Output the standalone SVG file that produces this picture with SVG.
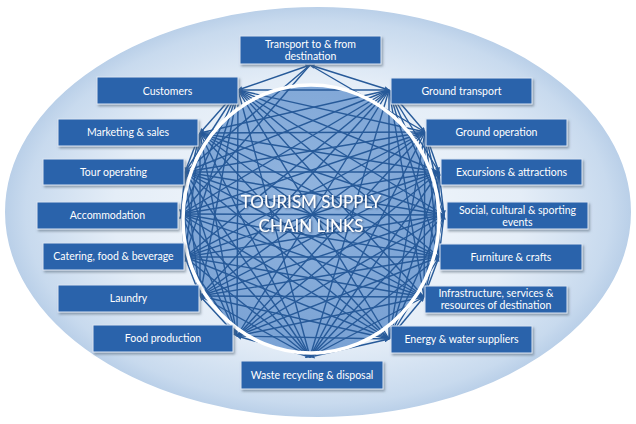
<svg xmlns="http://www.w3.org/2000/svg" width="636" height="424" viewBox="0 0 636 424">
<defs>
<radialGradient id="bg" cx="50%" cy="50%" r="50%">
<stop offset="0" stop-color="#f7fafd"/>
<stop offset="0.65" stop-color="#e4edf7"/>
<stop offset="0.93" stop-color="#c8daee"/>
<stop offset="1" stop-color="#b9cfe8"/>
</radialGradient>
<radialGradient id="hub" cx="45%" cy="40%" r="60%">
<stop offset="0" stop-color="#92b5df"/>
<stop offset="1" stop-color="#7aa2d4"/>
</radialGradient>
<filter id="sh" x="-10%" y="-20%" width="125%" height="150%">
<feDropShadow dx="1.5" dy="2" stdDeviation="1.2" flood-color="#556677" flood-opacity="0.55"/>
</filter>
<filter id="ts" x="-10%" y="-30%" width="120%" height="160%">
<feDropShadow dx="1" dy="1" stdDeviation="0.8" flood-color="#1b3d6b" flood-opacity="0.85"/>
</filter>
<marker id="ar" viewBox="0 0 10 10" refX="9" refY="5" markerWidth="5" markerHeight="5" orient="auto-start-reverse" markerUnits="userSpaceOnUse">
<path d="M0 0L10 5L0 10z" fill="#2a5d9c"/>
</marker>
<style>
.box{fill:#2b63ab;stroke:#dbe6f3;stroke-width:1;filter:url(#sh)}
.lbl{font-family:Lato,"Open Sans","Liberation Sans",sans-serif;font-size:10.5px;fill:#ffffff;text-anchor:middle}
.c path{fill:none;stroke:#275a99;stroke-width:1.4}
.c path.r{marker-start:url(#ar);marker-end:url(#ar)}
.title{font-family:Lato,"Open Sans","Liberation Sans",sans-serif;font-size:17px;fill:#ffffff;text-anchor:middle;filter:url(#ts)}
</style>
</defs>
<rect width="636" height="424" fill="#ffffff"/>
<ellipse cx="318" cy="212" rx="314" ry="206" fill="url(#bg)" stroke="#ffffff" stroke-width="2"/>
<ellipse id="hub-circle" cx="311" cy="219" rx="128" ry="134" fill="url(#hub)"/>
<g class="c" id="connectors">
<path d="M310 65L425 132"/><path d="M310 65L185 172"/><path d="M310 65L181 214"/>
<path d="M389 90L439 172"/><path d="M389 90L444 215"/><path d="M389 90L439 257"/><path d="M389 90L424 297"/><path d="M389 90L389 339"/><path d="M389 90L310 357"/><path d="M389 90L237 336"/><path d="M389 90L200 296"/><path d="M389 90L185 257"/><path d="M389 90L181 214"/><path d="M389 90L185 172"/><path d="M389 90L200 133"/><path d="M389 90L238 90"/>
<path d="M425 132L444 215"/><path d="M425 132L439 257"/><path d="M425 132L424 297"/><path d="M425 132L389 339"/><path d="M425 132L310 357"/><path d="M425 132L237 336"/><path d="M425 132L200 296"/><path d="M425 132L185 257"/><path d="M425 132L181 214"/><path d="M425 132L185 172"/><path d="M425 132L200 133"/><path d="M425 132L238 90"/>
<path d="M439 172L439 257"/><path d="M439 172L424 297"/><path d="M439 172L389 339"/><path d="M439 172L310 357"/><path d="M439 172L237 336"/><path d="M439 172L200 296"/><path d="M439 172L185 257"/><path d="M439 172L181 214"/><path d="M439 172L185 172"/><path d="M439 172L200 133"/><path d="M439 172L238 90"/>
<path d="M444 215L424 297"/><path d="M444 215L389 339"/><path d="M444 215L310 357"/><path d="M444 215L237 336"/><path d="M444 215L200 296"/><path d="M444 215L185 257"/><path d="M444 215L181 214"/><path d="M444 215L185 172"/><path d="M444 215L200 133"/><path d="M444 215L238 90"/>
<path d="M439 257L389 339"/><path d="M439 257L310 357"/><path d="M439 257L237 336"/><path d="M439 257L200 296"/><path d="M439 257L185 257"/><path d="M439 257L181 214"/><path d="M439 257L185 172"/><path d="M439 257L200 133"/><path d="M439 257L238 90"/>
<path d="M424 297L310 357"/><path d="M424 297L237 336"/><path d="M424 297L200 296"/><path d="M424 297L185 257"/><path d="M424 297L181 214"/><path d="M424 297L185 172"/><path d="M424 297L200 133"/><path d="M424 297L238 90"/>
<path d="M389 339L237 336"/><path d="M389 339L200 296"/><path d="M389 339L185 257"/><path d="M389 339L181 214"/><path d="M389 339L185 172"/><path d="M389 339L200 133"/><path d="M389 339L238 90"/>
<path d="M310 357L200 296"/><path d="M310 357L185 257"/><path d="M310 357L181 214"/><path d="M310 357L185 172"/><path d="M310 357L200 133"/><path d="M310 357L238 90"/>
<path d="M237 336L185 257"/><path d="M237 336L181 214"/><path d="M237 336L185 172"/><path d="M237 336L200 133"/><path d="M237 336L238 90"/>
<path d="M200 296L181 214"/><path d="M200 296L185 172"/><path d="M200 296L200 133"/><path d="M200 296L238 90"/>
<path d="M185 257L185 172"/><path d="M185 257L200 133"/><path d="M185 257L238 90"/>
<path d="M181 214L200 133"/><path d="M181 214L238 90"/>
<path d="M185 172L238 90"/>
<path class="r" d="M310 65L389 90"/><path class="r" d="M389 90L425 132"/><path class="r" d="M425 132L439 172"/><path class="r" d="M439 172L444 215"/><path class="r" d="M444 215L439 257"/><path class="r" d="M439 257L424 297"/><path class="r" d="M424 297L389 339"/><path class="r" d="M389 339L310 357"/><path class="r" d="M310 357L237 336"/><path class="r" d="M237 336L200 296"/><path class="r" d="M200 296L185 257"/><path class="r" d="M185 257L181 214"/><path class="r" d="M181 214L185 172"/><path class="r" d="M185 172L200 133"/><path class="r" d="M200 133L238 90"/><path class="r" d="M238 90L310 65"/>
</g>
<ellipse cx="311" cy="219" rx="128" ry="134" fill="none" stroke="#ffffff" stroke-width="3.5"/>
<g id="hub-title">
<text class="title" x="311" y="208">TOURISM SUPPLY</text>
<text class="title" x="311" y="232">CHAIN LINKS</text>
</g>
<g id="n-transport"><rect class="box" x="240" y="36" width="141" height="28"/><text class="lbl" x="310.5" y="48">Transport to &amp; from</text><text class="lbl" x="310.5" y="60">destination</text></g>
<g id="n-customers"><rect class="box" x="97" y="77" width="141" height="27"/><text class="lbl" x="167.5" y="94.5">Customers</text></g>
<g id="n-ground-transport"><rect class="box" x="391" y="78" width="141" height="26"/><text class="lbl" x="461.5" y="95">Ground transport</text></g>
<g id="n-marketing"><rect class="box" x="58" y="119" width="140" height="27"/><text class="lbl" x="128" y="136">Marketing &amp; sales</text></g>
<g id="n-ground-operation"><rect class="box" x="426" y="119" width="141" height="27"/><text class="lbl" x="496.5" y="136">Ground operation</text></g>
<g id="n-tour"><rect class="box" x="43" y="159" width="141" height="26"/><text class="lbl" x="113.5" y="175.5">Tour operating</text></g>
<g id="n-excursions"><rect class="box" x="441" y="159" width="141" height="26"/><text class="lbl" x="511.5" y="175.5">Excursions &amp; attractions</text></g>
<g id="n-accommodation"><rect class="box" x="37" y="202" width="141" height="27"/><text class="lbl" x="107.5" y="219">Accommodation</text></g>
<g id="n-social"><rect class="box" x="447" y="202" width="141" height="27"/><text class="lbl" x="517.5" y="213.5">Social, cultural &amp; sporting</text><text class="lbl" x="517.5" y="225.5">events</text></g>
<g id="n-catering"><rect class="box" x="43" y="243" width="141" height="27"/><text class="lbl" x="113.5" y="260">Catering, food &amp; beverage</text></g>
<g id="n-furniture"><rect class="box" x="440" y="244" width="142" height="26"/><text class="lbl" x="511" y="260.5">Furniture &amp; crafts</text></g>
<g id="n-laundry"><rect class="box" x="58" y="285" width="141" height="27"/><text class="lbl" x="128.5" y="302">Laundry</text></g>
<g id="n-infrastructure"><rect class="box" x="425" y="286" width="142" height="27"/><text class="lbl" x="496" y="297">Infrastructure, services &amp;</text><text class="lbl" x="496" y="308.5">resources of destination</text></g>
<g id="n-food"><rect class="box" x="93" y="325" width="140" height="27"/><text class="lbl" x="163" y="342">Food production</text></g>
<g id="n-energy"><rect class="box" x="391" y="326" width="141" height="27"/><text class="lbl" x="461.5" y="343">Energy &amp; water suppliers</text></g>
<g id="n-waste"><rect class="box" x="241" y="361" width="142" height="28"/><text class="lbl" x="312" y="378.5">Waste recycling &amp; disposal</text></g>
</svg>
